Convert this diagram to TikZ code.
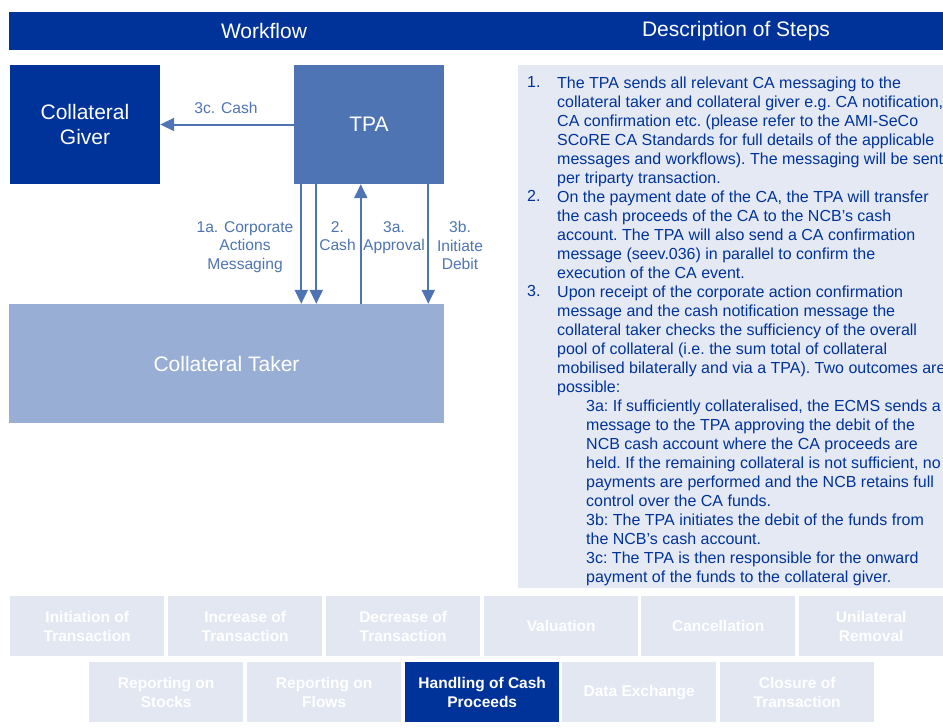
\documentclass[tikz,border=0pt]{standalone}
\usepackage{fontspec}
\setmainfont{Liberation Sans}
\usetikzlibrary{arrows.meta}
\definecolor{dblue}{HTML}{003399}
\definecolor{mblue}{HTML}{4E74B3}
\definecolor{lblue}{HTML}{99AED5}
\definecolor{pale}{HTML}{E5E9F3}
\definecolor{tabfill}{HTML}{E3E7F2}
\begin{document}
\begin{tikzpicture}[x=1pt,y=-1pt,
  box/.style={inner sep=0pt, text=white, align=center, font=\fontsize{21}{24.5}\selectfont},
  arr/.style={draw=mblue, line width=2pt, -{Triangle[width=13pt,length=14pt]}},
  lbl/.style={text=mblue, align=center, inner sep=0pt, font=\fontsize{15.6}{18.5}\selectfont},
  desctext/.style={text=dblue, align=left, inner sep=0pt, anchor=north west, font=\fontsize{16}{19}\selectfont\frenchspacing},
  hdrtext/.style={text=white, inner sep=0pt, font=\fontsize{21}{24}\selectfont},
  tabbox/.style={fill=tabfill, text=white, inner sep=0pt, align=center, anchor=north west,
     minimum width=154pt, minimum height=60pt, font=\bfseries\fontsize{15.5}{19}\selectfont},
  tabon/.style={tabbox, fill=dblue}
]
\useasboundingbox (0,0) rectangle (943,728);

% header bar
\node[fill=dblue, inner sep=0pt, anchor=north west, minimum width=934pt, minimum height=38pt] (hdr) at (9,12) {};
\node[hdrtext] (hwork) at (264,31) {Workflow};
\node[hdrtext] (hdesc) at (736,31) {Description of Steps};

% boxes
\node[box, fill=dblue, minimum width=150pt, minimum height=119pt] (giver) at (85,124.5) {Collateral\\Giver};
\node[box, fill=mblue, minimum width=150pt, minimum height=119pt] (tpa) at (369,124.5) {TPA};
\node[box, fill=lblue, minimum width=435pt, minimum height=119pt] (taker) at (226.5,363.5) {Collateral Taker};

% arrows
\draw[arr] (tpa.west) -- (giver.east);
\draw[arr] ([xshift=7.5pt]tpa.south west) -- ([xshift=7.5pt]tpa.south west |- taker.north);
\draw[arr] ([xshift=22.5pt]tpa.south west) -- ([xshift=22.5pt]tpa.south west |- taker.north);
\draw[arr] ([xshift=67pt]tpa.south west |- taker.north) -- ([xshift=67pt]tpa.south west);
\draw[arr] ([xshift=134.5pt]tpa.south west) -- ([xshift=134.5pt]tpa.south west |- taker.north);

% labels
\node[lbl] (l3c) at (226,108) {3c. Cash};
\node[lbl, anchor=north] (l1a) at (245,221) {1a. Corporate\\Actions\\Messaging};
\node[lbl, anchor=north] (l2) at (337.5,221) {2.\\Cash};
\node[lbl, anchor=north] (l3a) at (394,221) {3a.\\Approval};
\node[lbl, anchor=north] (l3b) at (460,221) {3b.\\Initiate\\Debit};

% description box
\node[fill=pale, inner sep=0pt, anchor=north west, minimum width=425pt, minimum height=523pt] (desc) at (518,65) {};
\node[desctext] (n1) at (527,76.5) {1.};
\node[desctext] (p1) at (557,76.3) {The TPA sends all relevant CA messaging to the\\
collateral taker and collateral giver e.g. CA notification,\\
CA confirmation etc. (please refer to the AMI-SeCo\\
SCoRE CA Standards for full details of the applicable\\
messages and workflows). The messaging will be sent\\
per triparty transaction.};
\node[desctext] (n2) at (527,190.5) {2.};
\node[desctext] (p2) at (557,190.3) {On the payment date of the CA, the TPA will transfer\\
the cash proceeds of the CA to the NCB’s cash\\
account. The TPA will also send a CA confirmation\\
message (seev.036) in parallel to confirm the\\
execution of the CA event.};
\node[desctext] (n3) at (527,285.5) {3.};
\node[desctext] (p3) at (557,285.3) {Upon receipt of the corporate action confirmation\\
message and the cash notification message the\\
collateral taker checks the sufficiency of the overall\\
pool of collateral (i.e. the sum total of collateral\\
mobilised bilaterally and via a TPA). Two outcomes are\\
possible:};
\node[desctext] (p3s) at (586,399.3) {3a: If sufficiently collateralised, the ECMS sends a\\
message to the TPA approving the debit of the\\
NCB cash account where the CA proceeds are\\
held. If the remaining collateral is not sufficient, no\\
payments are performed and the NCB retains full\\
control over the CA funds.\\
3b: The TPA initiates the debit of the funds from\\
the NCB’s cash account.\\
3c: The TPA is then responsible for the onward\\
payment of the funds to the collateral giver.};

% tabs row 1
\node[tabbox] (t1) at (10,596) {Initiation of\\Transaction};
\node[tabbox] (t2) at (168,596) {Increase of\\Transaction};
\node[tabbox] (t3) at (326,596) {Decrease of\\Transaction};
\node[tabbox] (t4) at (484,596) {Valuation};
\node[tabbox] (t5) at (641,596) {Cancellation};
\node[tabbox, minimum width=144pt] (t6) at (799,596) {Unilateral\\Removal};
% tabs row 2
\node[tabbox] (t7) at (89,662) {Reporting on\\Stocks};
\node[tabbox] (t8) at (247,662) {Reporting on\\Flows};
\node[tabon] (t9) at (405,662) {Handling of Cash\\Proceeds};
\node[tabbox] (t10) at (562,662) {Data Exchange};
\node[tabbox] (t11) at (720,662) {Closure of\\Transaction};
\end{tikzpicture}
\end{document}
